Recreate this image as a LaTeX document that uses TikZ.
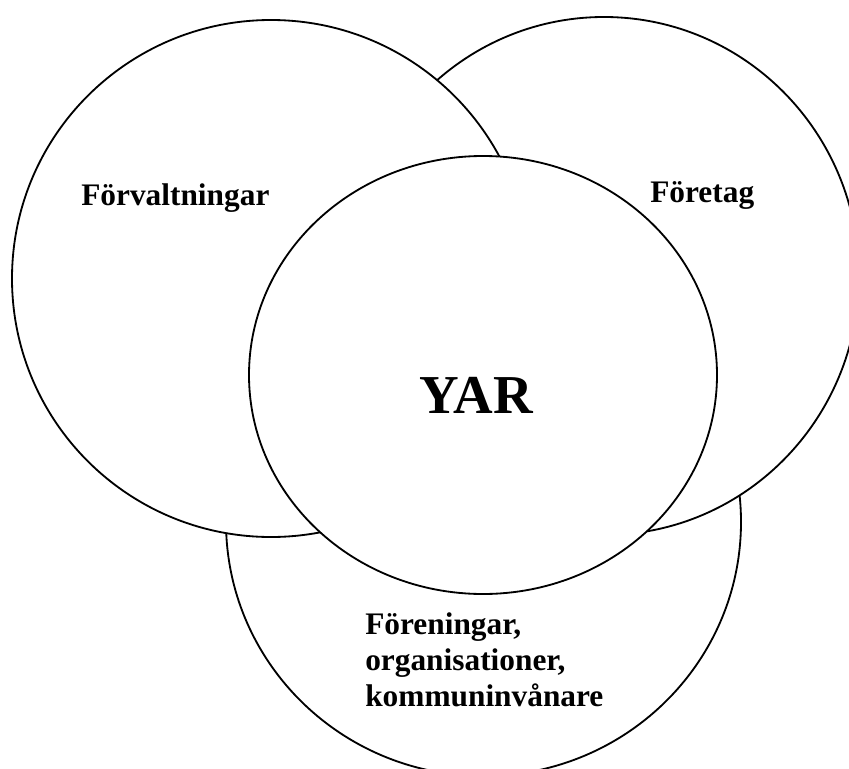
\documentclass[tikz,border=0pt]{standalone}
\usepackage{fontspec}
\setmainfont{Liberation Serif}
\begin{document}
\begin{tikzpicture}[x=0.025cm,y=-0.025cm,
    ring/.style={draw,fill=white,line width=1.3pt},
    lbl/.style={font=\bfseries\fontsize{22.3}{25.6}\selectfont,anchor=base west,inner sep=0pt}]
\useasboundingbox (0,0) rectangle (849,769);
\clip (0,0) rectangle (849,769);
% circles, back to front
\draw[ring] (483.5,522) ellipse [x radius=257.5,y radius=254];
\draw[ring] (604,276) ellipse [x radius=255,y radius=259];
\draw[ring] (271,278.5) ellipse [x radius=259,y radius=258.5];
\draw[ring] (483,375) ellipse [x radius=234,y radius=219];
% labels
\node[lbl] (forv) at (81,205) {Förvaltningar};
\node[lbl] (foret) at (650,202) {Företag};
\node[lbl,align=left] (foren) at (365,706) {Föreningar,\\organisationer,\\kommuninvånare};
\node[font=\bfseries\fontsize{39}{42}\selectfont,anchor=base,inner sep=0pt] (yar) at (476,413) {YAR};
\end{tikzpicture}
\end{document}
